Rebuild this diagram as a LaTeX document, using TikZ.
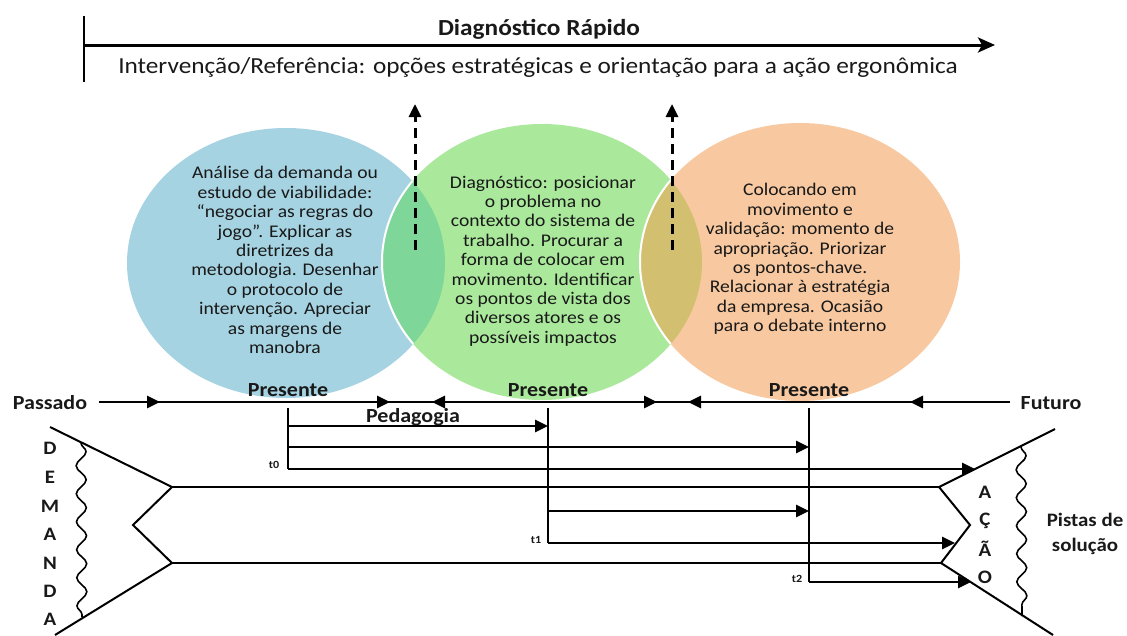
\documentclass[tikz,border=0pt]{standalone}
\usepackage{fontspec}
\setmainfont{Carlito}[FakeStretch=1.1]
\usetikzlibrary{arrows.meta,decorations.markings,decorations.pathmorphing}
\definecolor{cblue}{RGB}{166,211,226}
\definecolor{cgreen}{RGB}{170,232,155}
\definecolor{corange}{RGB}{248,201,160}
\definecolor{cbg}{RGB}{126,214,152}
\definecolor{cgo}{RGB}{210,191,112}
\definecolor{ctxt}{RGB}{25,25,25}
\begin{document}
\begin{tikzpicture}[x=1pt,y=-1pt,
  ln/.style={line width=2.6pt},
  thin ln/.style={line width=2pt},
  tri/.style={-{Triangle[length=13pt,width=12pt]}},
  ctext/.style={align=center,font=\fontsize{17.8pt}{19.4pt}\selectfont,text=ctxt,inner sep=0pt},
  blab/.style={font=\fontsize{20pt}{24pt}\selectfont\bfseries,inner sep=0pt,text=ctxt},
  letter/.style={font=\fontsize{19pt}{22pt}\selectfont\bfseries,inner sep=0pt,text=ctxt},
  tlab/.style={font=\fontsize{11pt}{13pt}\selectfont\bfseries,inner sep=0pt,text=ctxt},
  wav/.style={line width=1.6pt,decorate,decoration={snake,segment length=28pt,amplitude=5pt}},
  dasharrow/.style={line width=3pt,dash pattern=on 10pt off 6pt,-{Triangle[length=13pt,width=12pt]}}
]
\useasboundingbox (0,0) rectangle (1127,635);

% ---------- circles ----------
\def\blueE{(286,263) ellipse [x radius=159,y radius=135]}
\def\greenE{(542,262) ellipse [x radius=160,y radius=138]}
\def\orangeE{(800,262) ellipse [x radius=160,y radius=139]}
\fill[cblue] \blueE;
\fill[cgreen] \greenE;
\begin{scope}
  \clip \blueE;
  \fill[cbg] \greenE;
  \draw[white,line width=2pt] \greenE;
\end{scope}
\fill[corange] \orangeE;
\begin{scope}
  \clip \greenE;
  \fill[cgo] \orangeE;
  \draw[white,line width=2pt] \orangeE;
\end{scope}

\node[ctext] (tblue) at (285,260) {Análise da demanda ou\\estudo de viabilidade:\\“negociar as regras do\\jogo”. Explicar as\\diretrizes da\\metodologia. Desenhar\\o protocolo de\\intervenção. Apreciar\\as margens de\\manobra};
\node[ctext] (tgreen) at (543,261) {Diagnóstico: posicionar\\o problema no\\contexto do sistema de\\trabalho. Procurar a\\forma de colocar em\\movimento. Identificar\\os pontos de vista dos\\diversos atores e os\\possíveis impactos};
\node[ctext] (torange) at (800,259) {Colocando em\\movimento e\\validação: momento de\\apropriação. Priorizar\\os pontos-chave.\\Relacionar à estratégia\\da empresa. Ocasião\\para o debate interno};

% ---------- dashed arrows ----------
\coordinate (dA0) at (415,250); \coordinate (dA1) at (415,104);
\coordinate (dB0) at (672,250); \coordinate (dB1) at (672,104);
\draw[dasharrow] (dA0) -- (dA1);
\draw[dasharrow] (dB0) -- (dB1);

% ---------- top arrow ----------
\coordinate (vt) at (84,16); \coordinate (vb) at (84,82);
\coordinate (hs) at (84,45); \coordinate (he) at (995,45);
\draw[line width=2.6pt] (vt) -- (vb);
\draw[line width=3pt,-{Stealth[length=17pt,width=15pt,inset=4pt]}] (hs) -- (he);
\node[font=\fontsize{23pt}{27pt}\selectfont\bfseries,text=ctxt,inner sep=0pt] (diag) at (539,29) {Diagnóstico Rápido};
\node[font=\fontsize{23pt}{27pt}\selectfont,text=ctxt,inner sep=0pt] (interv) at (538,67) {Intervenção/Referência: opções estratégicas e orientação para a ação ergonômica};

% ---------- timeline ----------
\node[blab] (passado) at (50,403) {Passado};
\node[blab] (futuro) at (1051,403) {Futuro};
\node[blab] (pres0) at (288,390) {Presente};
\node[blab] (pres1) at (548,390) {Presente};
\node[blab] (pres2) at (809,390) {Presente};
\coordinate (tlS) at (99,402); \coordinate (tlE) at (1010,402);
\draw[ln,postaction={decorate},decoration={markings,
   mark=at position 61pt with {\arrow{Triangle[length=13pt,width=12pt]}},
   mark=at position 291pt with {\arrow{Triangle[length=13pt,width=12pt]}},
   mark=at position 333pt with {\arrowreversed{Triangle[length=13pt,width=12pt]}},
   mark=at position 558pt with {\arrow{Triangle[length=13pt,width=12pt]}},
   mark=at position 589pt with {\arrowreversed{Triangle[length=13pt,width=12pt]}},
   mark=at position 811pt with {\arrowreversed{Triangle[length=13pt,width=12pt]}}}]
   (tlS) -- (tlE);

\node[blab] (ped) at (413,417) {Pedagogia};

% ---------- demanda / acao shapes ----------
\coordinate (d1) at (50,427); \coordinate (dv1) at (172,487);
\coordinate (dvm) at (133,525); \coordinate (dv2) at (172,563);
\coordinate (d2) at (55,635);
\coordinate (a1) at (1055,429); \coordinate (av1) at (939,487);
\coordinate (avm) at (970,525); \coordinate (av2) at (941,563);
\coordinate (a2) at (1053,635);
\draw[thin ln] (d1) -- (dv1) -- (dvm) -- (dv2) -- (d2);
\draw[thin ln] (a1) -- (av1) -- (avm) -- (av2) -- (a2);
\draw[ln] (dv1) -- (av1);
\draw[ln] (dv2) -- (av2);
\coordinate (wd1) at (81,443); \coordinate (wd2) at (82,617);
\draw[wav] (wd1) -- (wd2);
\coordinate (wa1) at (1021,447); \coordinate (wa2) at (1022,616);
\draw[wav] (wa1) -- (wa2);

\foreach \l/\y [count=\i] in {D/448,E/477,M/506,A/534,N/563,D/591,A/619}
  \node[letter] (dem\i) at (50,\y) {\l};
\node[letter] (ac1) at (985,492) {A};
\node[letter] (ac2) at (985,521) {Ç};
\node[letter] (ac3) at (985,549) {Ã};
\node[letter] (ac4) at (985,577) {O};
\node[blab,align=center,font=\fontsize{19pt}{25pt}\selectfont\bfseries] (pistas) at (1085,534) {Pistas de\\solução};

% ---------- time branches ----------
\coordinate (v0t) at (288,408); \coordinate (t0c) at (288,469);
\coordinate (v1t) at (548,408); \coordinate (t1c) at (548,543);
\coordinate (v2t) at (809,408); \coordinate (t2c) at (809,582);
\draw[ln] (v0t) -- (t0c);
\draw[ln] (v1t) -- (t1c);
\draw[ln] (v2t) -- (t2c);
\node[tlab] (t0) at (274,465) {t0};
\node[tlab] (t1) at (536,540) {t1};
\node[tlab] (t2) at (797,579) {t2};

\coordinate (s1) at (288,426); \coordinate (e1) at (548,426);
\coordinate (s2) at (288,447); \coordinate (e2) at (809,447);
\coordinate (e3) at (975,469);
\coordinate (s4) at (548,511); \coordinate (e4) at (809,511);
\coordinate (e5) at (955,543);
\coordinate (e6) at (971,582);
\draw[ln,tri] (s1) -- (e1);
\draw[ln,tri] (s2) -- (e2);
\draw[ln,tri] (t0c) -- (e3);
\draw[ln,tri] (s4) -- (e4);
\draw[ln,tri] (t1c) -- (e5);
\draw[ln,tri] (t2c) -- (e6);
\end{tikzpicture}
\end{document}
